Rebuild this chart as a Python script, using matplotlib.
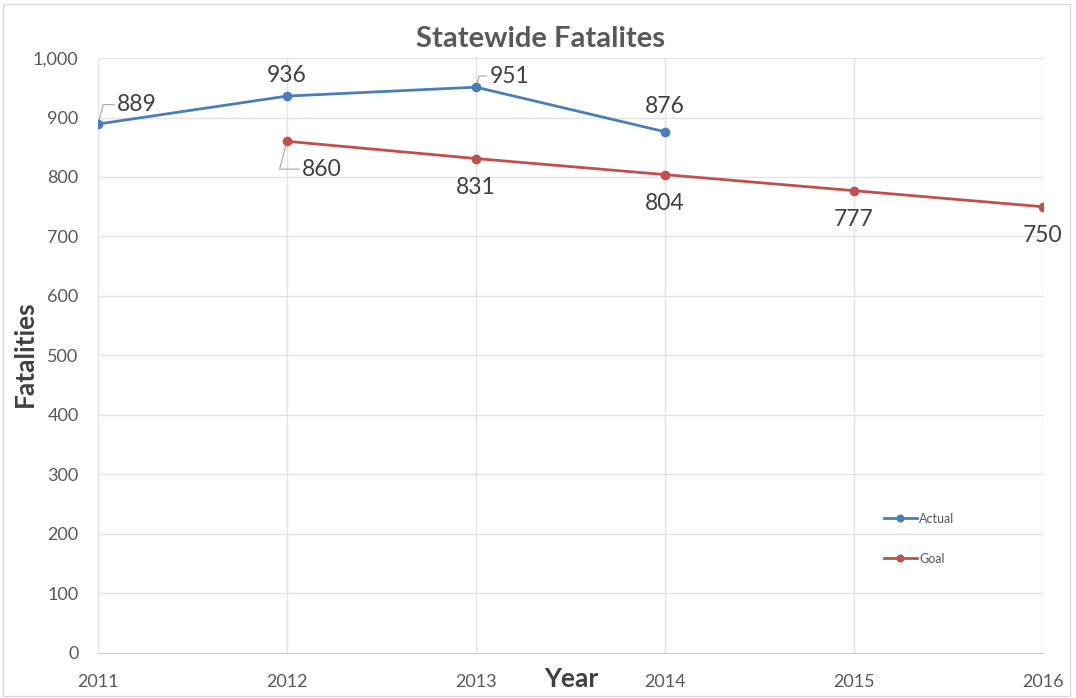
import matplotlib
matplotlib.use("Agg")
import matplotlib.pyplot as plt
from matplotlib.patches import Rectangle

plt.rcParams['font.family'] = ['Lato', 'DejaVu Sans']

years = [2011, 2012, 2013, 2014, 2015, 2016]
actual_years = [2011, 2012, 2013, 2014]
actual = [889, 936, 951, 876]
goal_years = [2012, 2013, 2014, 2015, 2016]
goal = [860, 831, 804, 777, 750]
yticks = [0, 100, 200, 300, 400, 500, 600, 700, 800, 900, 1000]

blue = '#4a7ebb'
red = '#c0504d'
txt = '#595959'

fig = plt.figure(figsize=(10.76, 6.98), dpi=100)
ax = fig.add_axes([0.0911, 0.0645, 0.9693 - 0.0911, 0.9169 - 0.0645])

ax.plot(actual_years, actual, color=blue, lw=2, marker='o', ms=6, label='Actual', zorder=3)
ax.plot(goal_years, goal, color=red, lw=2, marker='o', ms=6, label='Goal', zorder=3)

ax.set_xlim(2011, 2016)
ax.set_ylim(0, 1000)
ax.set_xticks(years)
ax.set_yticks(yticks)
ax.set_yticklabels([f"{v:,}" for v in yticks])
ax.grid(True, color='#e3e3e3', lw=1)
ax.set_axisbelow(True)
for s in ['left', 'right', 'top']:
    ax.spines[s].set_visible(False)
ax.spines['bottom'].set_color('#d0d0d0')
ax.tick_params(length=0, labelsize=13, colors=txt)
ax.tick_params(axis='x', pad=15)
ax.tick_params(axis='y', pad=14)

fig.text(540 / 1076, 1 - 39 / 698, 'Statewide Fatalites', fontsize=21, fontweight='bold',
         color=txt, ha='center', va='center')
fig.text(25 / 1076, 1 - 354 / 698, 'Fatalities', fontsize=19, fontweight='bold', color='#404040',
         ha='center', va='center', rotation=90)
fig.text(571 / 1076, 1 - 679 / 698, 'Year', fontsize=19, fontweight='bold', color='#404040',
         ha='center', va='center')

act_offsets = [(28, 14, True), (0, 15, False), (24, 8, True), (0, 18, False)]
goal_offsets = [(25, -20, True), (0, -21, False), (0, -21, False), (0, -21, False), (0, -21, False)]

def label(xv, yv, off):
    dx, dy, has_lead = off
    kw = {}
    if has_lead:
        kw['arrowprops'] = dict(arrowstyle='-', color='#a6a6a6', lw=0.8, shrinkA=0, shrinkB=3,
                                connectionstyle='angle,angleA=0,angleB=75,rad=0')
    ax.annotate(f"{yv}", xy=(xv, yv), xytext=(dx, dy), textcoords='offset points',
                ha='center', va='center', fontsize=16.5, color='#404040', annotation_clip=False, **kw)

for xv, yv, off in zip(actual_years, actual, act_offsets):
    label(xv, yv, off)
for xv, yv, off in zip(goal_years, goal, goal_offsets):
    label(xv, yv, off)

ax.legend(loc='upper left', bbox_to_anchor=(0.82, 0.255), frameon=False, fontsize=9,
          labelspacing=2.25, handlelength=2.6, handletextpad=0.2, markerscale=0.8,
          labelcolor=txt)

fig.patches.append(Rectangle((3 / 1076, 2 / 698), 1067 / 1076, 692 / 698, transform=fig.transFigure,
                             fill=False, edgecolor='#d9d9d9', lw=1))

fig.savefig('out.png', dpi=100)
